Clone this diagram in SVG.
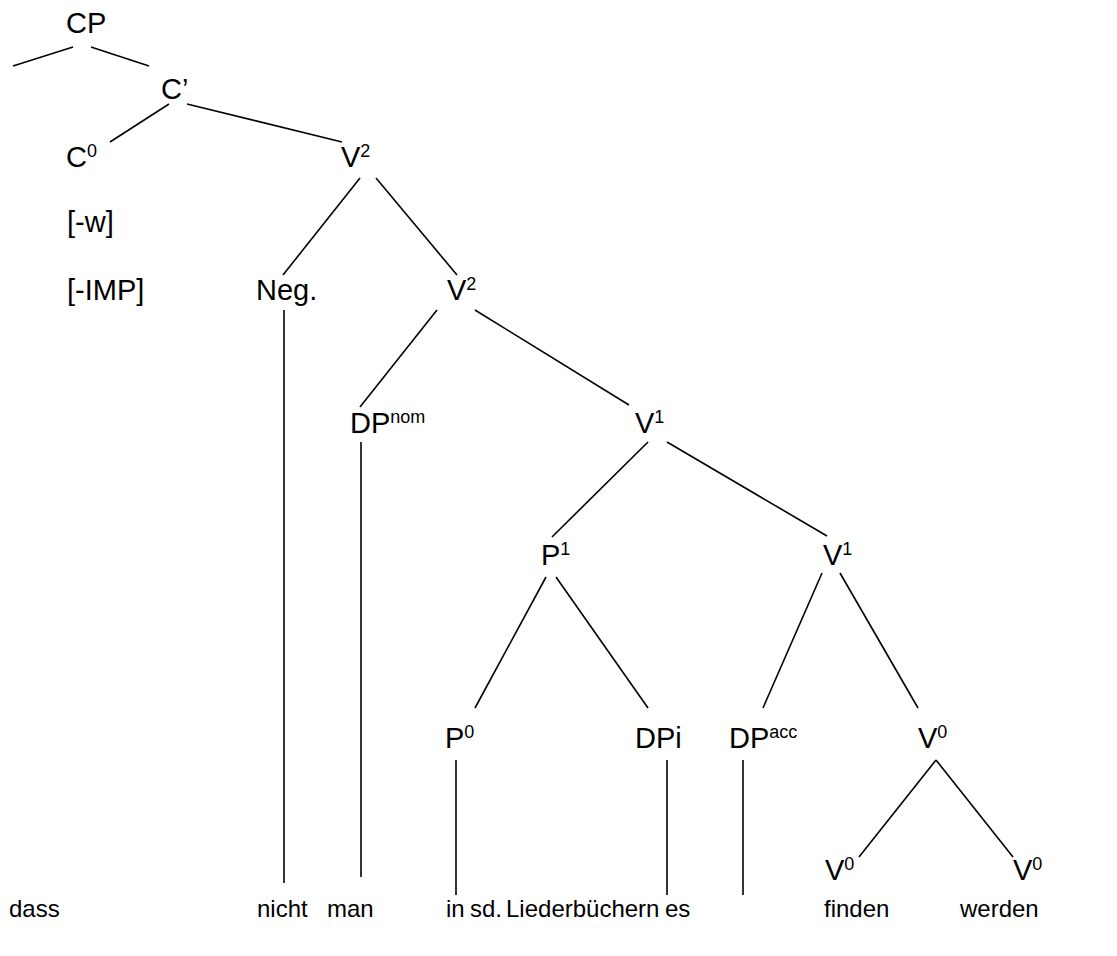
<svg xmlns="http://www.w3.org/2000/svg" width="1117" height="956" viewBox="0 0 1117 956">
  <style>
    text { font-family: "Liberation Sans", Arial, sans-serif; font-size: 29px; fill: #000; }
    .sup { font-size: 18px; }
    .word { font-size: 24px; }
    .edge { stroke: #000; stroke-width: 1.6; fill: none; }
  </style>
  <rect width="1117" height="956" fill="#fff"/>

  <!-- tree branches -->
  <g id="connectors">
    <line class="edge" x1="13" y1="66" x2="73" y2="47"/>
    <line class="edge" x1="91" y1="47" x2="149" y2="66"/>
    <line class="edge" x1="169" y1="104" x2="110" y2="142"/>
    <line class="edge" x1="187" y1="104" x2="342" y2="142"/>
    <line class="edge" x1="360" y1="178" x2="283" y2="275"/>
    <line class="edge" x1="376" y1="178" x2="457" y2="275"/>
    <line class="edge" x1="437" y1="310" x2="360" y2="407"/>
    <line class="edge" x1="475" y1="310" x2="629" y2="405"/>
    <line class="edge" x1="648" y1="442" x2="552" y2="537"/>
    <line class="edge" x1="667" y1="442" x2="827" y2="536"/>
    <line class="edge" x1="546" y1="577" x2="475" y2="708"/>
    <line class="edge" x1="556" y1="577" x2="648" y2="708"/>
    <line class="edge" x1="822" y1="573" x2="763" y2="708"/>
    <line class="edge" x1="840" y1="573" x2="918" y2="708"/>
    <line class="edge" x1="936" y1="760" x2="859" y2="857"/>
    <line class="edge" x1="936" y1="760" x2="1013" y2="857"/>
    <!-- lines down to the words -->
    <line class="edge" x1="284" y1="310" x2="284" y2="883"/>
    <line class="edge" x1="361" y1="442" x2="361" y2="877"/>
    <line class="edge" x1="456" y1="760" x2="456" y2="895"/>
    <line class="edge" x1="667" y1="760" x2="667" y2="895"/>
    <line class="edge" x1="743" y1="760" x2="743" y2="895"/>
  </g>

  <!-- tree nodes -->
  <g id="cp"><text x="66" y="33">CP</text></g>
  <g id="c-bar"><text x="161" y="99">C’</text></g>
  <g id="c0"><text x="66" y="167">C<tspan class="sup" dy="-10">0</tspan></text></g>
  <g id="v2-top"><text x="341" y="167">V<tspan class="sup" dy="-10">2</tspan></text></g>
  <g id="feat-w"><text x="67" y="232">[-w]</text></g>
  <g id="feat-imp"><text x="67" y="300">[-IMP]</text></g>
  <g id="neg"><text x="256" y="300">Neg.</text></g>
  <g id="v2-low"><text x="447" y="300">V<tspan class="sup" dy="-10">2</tspan></text></g>
  <g id="dp-nom"><text x="350" y="433">DP<tspan class="sup" dy="-10">nom</tspan></text></g>
  <g id="v1-top"><text x="635" y="433">V<tspan class="sup" dy="-10">1</tspan></text></g>
  <g id="p1"><text x="541" y="565">P<tspan class="sup" dy="-10">1</tspan></text></g>
  <g id="v1-low"><text x="823" y="565">V<tspan class="sup" dy="-10">1</tspan></text></g>
  <g id="p0"><text x="445" y="748">P<tspan class="sup" dy="-10">0</tspan></text></g>
  <g id="dpi"><text x="635" y="748">DPi</text></g>
  <g id="dp-acc"><text x="729" y="748">DP<tspan class="sup" dy="-10">acc</tspan></text></g>
  <g id="v0-top"><text x="918" y="748">V<tspan class="sup" dy="-10">0</tspan></text></g>
  <g id="v0-left"><text x="825" y="880">V<tspan class="sup" dy="-10">0</tspan></text></g>
  <g id="v0-right"><text x="1013" y="880">V<tspan class="sup" dy="-10">0</tspan></text></g>

  <!-- terminal words -->
  <g id="words">
    <text class="word" x="9" y="917">dass</text>
    <text class="word" x="257" y="917">nicht</text>
    <text class="word" x="327" y="917">man</text>
    <text class="word" x="446" y="917">in</text>
    <text class="word" x="470" y="917">sd.</text>
    <text class="word" x="506" y="917">Liederbüchern</text>
    <text class="word" x="665" y="917">es</text>
    <text class="word" x="824" y="917">finden</text>
    <text class="word" x="960" y="917">werden</text>
  </g>
</svg>
